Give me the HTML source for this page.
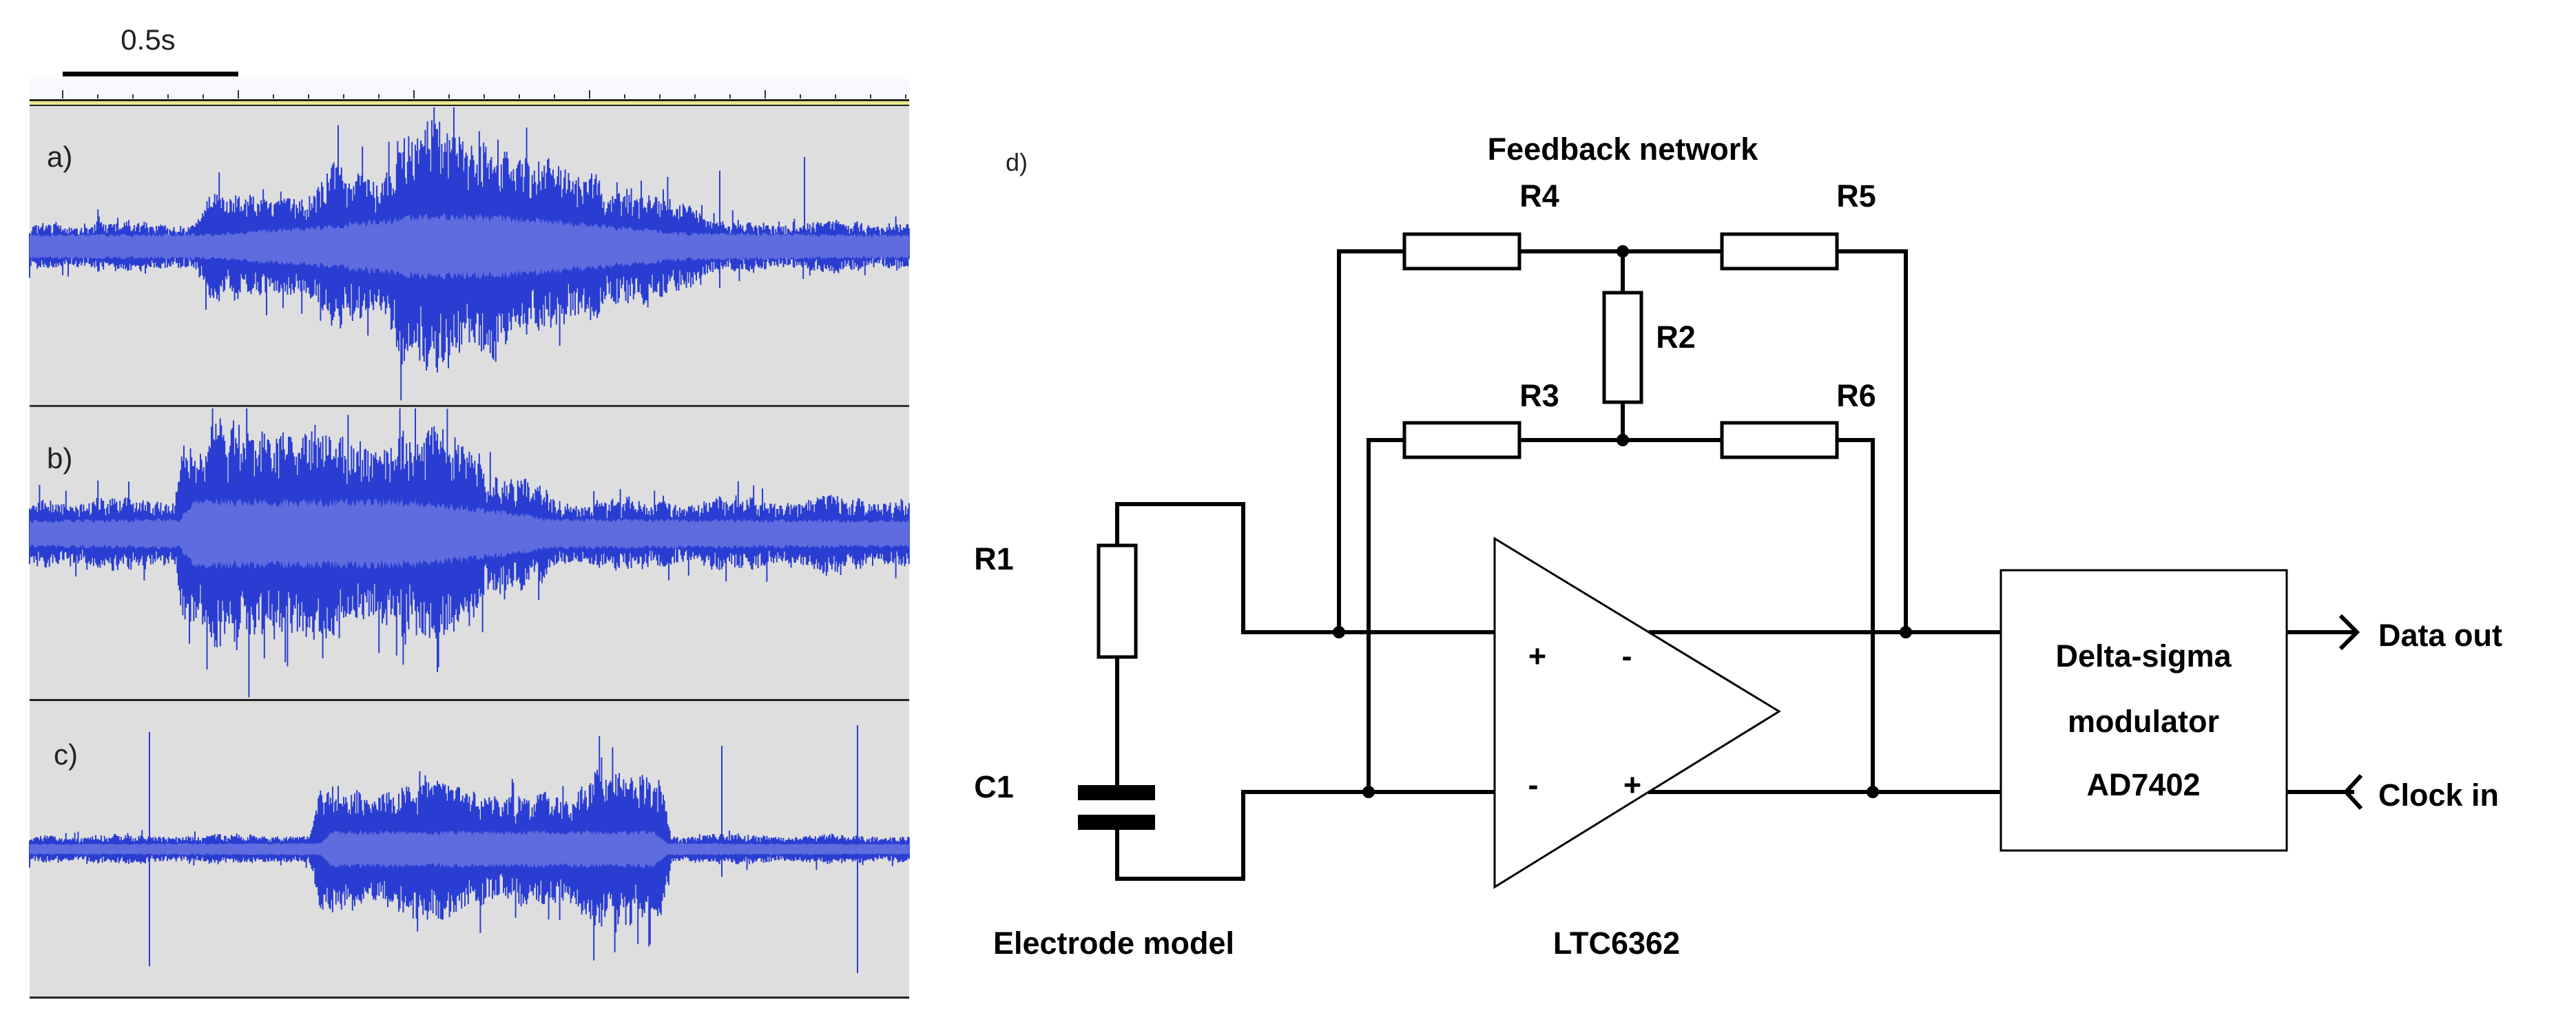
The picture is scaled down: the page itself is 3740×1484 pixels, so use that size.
<!DOCTYPE html>
<html><head><meta charset="utf-8"><style>
html,body{margin:0;padding:0;background:#fff;}
svg{display:block;}
.t{font-family:"Liberation Sans",Arial,sans-serif;font-weight:bold;font-size:45px;fill:#000;}
</style></head><body>
<svg id="s" width="3740" height="1484" viewBox="0 0 3740 1484" xmlns="http://www.w3.org/2000/svg">
<rect width="3740" height="1484" fill="#fff"/>
<text x="215" y="72" font-family="Liberation Sans, sans-serif" font-size="42" text-anchor="middle" fill="#222">0.5s</text>
<rect x="91" y="104" width="255" height="7" fill="#000"/>
<rect x="43" y="115" width="1277" height="30" fill="#f6f8fc"/>
<g id="ticks" stroke="#333" stroke-width="2"></g>
<rect x="43" y="144" width="1277" height="3" fill="#222"/>
<rect x="43" y="147" width="1277" height="5" fill="#ece88a"/>
<rect x="43" y="152" width="1277" height="2" fill="#222"/>
<rect x="43" y="154" width="1277" height="1294" fill="#dedede"/>
<g id="wave"></g>
<rect x="43" y="588" width="1277" height="3" fill="#333"/>
<rect x="43" y="1015" width="1277" height="3" fill="#222"/>
<rect x="43" y="1447" width="1277" height="3" fill="#222"/>
<text x="68" y="242" font-family="Liberation Sans, sans-serif" font-size="42" fill="#222">a)</text>
<text x="68" y="680" font-family="Liberation Sans, sans-serif" font-size="42" fill="#222">b)</text>
<text x="78" y="1110" font-family="Liberation Sans, sans-serif" font-size="42" fill="#222">c)</text>

<text x="1460" y="248" font-family="Liberation Sans, sans-serif" font-size="36" fill="#222">d)</text>
<text class="t" x="2356" y="232" text-anchor="middle">Feedback network</text>
<g stroke="#000" stroke-width="6" fill="none">
<polyline points="2039,365 1944,365 1944,918"/>
<line x1="2206" y1="365" x2="2500" y2="365"/>
<polyline points="2667,365 2767,365 2767,918"/>
<line x1="2356" y1="365" x2="2356" y2="425"/>
<line x1="2356" y1="584" x2="2356" y2="639"/>
<polyline points="2039,639 1987,639 1987,1150"/>
<line x1="2206" y1="639" x2="2500" y2="639"/>
<polyline points="2667,639 2719,639 2719,1150"/>
<polyline points="1622,792 1622,732 1805,732 1805,918 2170,918"/>
<line x1="1622" y1="954" x2="1622" y2="1140"/>
<polyline points="1622,1204 1622,1276 1805,1276 1805,1150 2170,1150"/>
<line x1="2394" y1="918" x2="2905" y2="918"/>
<line x1="2393" y1="1150" x2="2905" y2="1150"/>
<line x1="3320" y1="918" x2="3418" y2="918"/>
<polyline points="3398,894 3422,918 3398,942"/>
<line x1="3320" y1="1150" x2="3418" y2="1150"/>
<polyline points="3428,1126 3406,1150 3428,1174"/>
</g>
<g stroke="#000" stroke-width="5" fill="#fff">
<rect x="2039" y="340" width="167" height="50"/>
<rect x="2500" y="340" width="167" height="50"/>
<rect x="2329" y="425" width="54" height="159"/>
<rect x="2039" y="614" width="167" height="50"/>
<rect x="2500" y="614" width="167" height="50"/>
<rect x="1595" y="792" width="54" height="162"/>
</g>
<rect x="1565" y="1140" width="112" height="22" fill="#000"/>
<rect x="1565" y="1183" width="112" height="22" fill="#000"/>
<polygon points="2170,782 2583,1033 2170,1288" fill="#fff" stroke="#000" stroke-width="3"/>
<rect x="2905" y="828" width="415" height="407" fill="#fff" stroke="#000" stroke-width="3"/>
<g fill="#000">
<circle cx="1944" cy="918" r="9"/><circle cx="1987" cy="1150" r="9"/>
<circle cx="2719" cy="1150" r="9"/><circle cx="2767" cy="918" r="9"/>
<circle cx="2356" cy="365" r="9"/><circle cx="2356" cy="639" r="9"/>
</g>
<text class="t" x="2235" y="300" text-anchor="middle">R4</text>
<text class="t" x="2695" y="300" text-anchor="middle">R5</text>
<text class="t" x="2433" y="505" text-anchor="middle">R2</text>
<text class="t" x="2235" y="590" text-anchor="middle">R3</text>
<text class="t" x="2695" y="590" text-anchor="middle">R6</text>
<text class="t" x="1443" y="827" text-anchor="middle">R1</text>
<text class="t" x="1443" y="1158" text-anchor="middle">C1</text>
<text class="t" x="1617" y="1385" text-anchor="middle">Electrode model</text>
<text class="t" x="2347" y="1385" text-anchor="middle">LTC6362</text>
<text class="t" x="2232" y="968" text-anchor="middle">+</text>
<text class="t" x="2362" y="968" text-anchor="middle">-</text>
<text class="t" x="2226" y="1155" text-anchor="middle">-</text>
<text class="t" x="2370" y="1155" text-anchor="middle">+</text>
<text class="t" x="3112" y="968" text-anchor="middle">Delta-sigma</text>
<text class="t" x="3112" y="1063" text-anchor="middle">modulator</text>
<text class="t" x="3112" y="1155" text-anchor="middle">AD7402</text>
<text class="t" x="3453" y="938">Data out</text>
<text class="t" x="3453" y="1170">Clock in</text>
</svg>
<script>
(function(){
var NS="http://www.w3.org/2000/svg";
var s=12345;function rnd(){s=(s*16807)%2147483647;return (s-1)/2147483646;}
var tk=document.getElementById('ticks');
for(var i=0;i<26;i++){var x=91+i*(255/5);if(x>1315)break;var l=document.createElementNS(NS,'line');
l.setAttribute('x1',x);l.setAttribute('x2',x);l.setAttribute('y1',i%5==0?131:137);l.setAttribute('y2',143);tk.appendChild(l);}
function pw(x,pts){
 if(x<=pts[0][0])return pts[0][1];
 for(var i=1;i<pts.length;i++){if(x<=pts[i][0]){var a=pts[i-1],b=pts[i];return a[1]+(b[1]-a[1])*(x-a[0])/(b[0]-a[0]);}}
 return pts[pts.length-1][1];}
function nz(x){return 0.75+0.25*Math.abs(Math.sin(x/11+Math.sin(x/29)*2)*Math.sin(x/47+1));}
var panels=[
 {c:358,top:156,bot:586,
  env:[[43,38],[280,40],[300,80],[460,90],[480,130],[560,125],[580,190],[720,195],[740,140],[860,135],[880,90],[1000,85],[1030,40],[1320,40]],
  cen:[[43,16],[300,17],[480,28],[600,42],[720,42],[860,30],[1000,18],[1320,16]], sp:[[1168,130,-20],[1045,110,-60]]},
 {c:775,top:593,bot:1013,
  env:[[43,55],[255,58],[265,165],[450,190],[470,160],[690,160],[710,100],[790,75],[800,55],[1320,58]],
  cen:[[43,18],[262,20],[280,45],[600,45],[720,32],[800,20],[1320,18]], sp:[]},
 {c:1233,top:1020,bot:1445,
  env:[[43,22],[450,24],[465,95],[700,110],[720,85],[830,90],[845,130],[900,130],[920,115],[960,115],[975,24],[1320,22]],
  cen:[[43,7],[465,8],[480,24],[950,24],[970,8],[1320,7]], sp:[[217,170,-170],[1245,180,-180],[1048,150,-40]]}
];
var wv=document.getElementById('wave');
panels.forEach(function(p){
 var d='',up=[],dn=[];
 for(var x=43;x<=1320;x+=1.6){
  var e=pw(x,p.env)*nz(x);
  var a=e*(0.5+0.5*Math.pow(rnd(),0.6)),b=e*(0.5+0.5*Math.pow(rnd(),0.6));
  if(rnd()<0.04){a*=1.5;} if(rnd()<0.04){b*=1.5;}
  var y1=Math.max(p.top,p.c-a),y2=Math.min(p.bot,p.c+b);
  d+='M'+x.toFixed(1)+' '+y1.toFixed(1)+'V'+y2.toFixed(1);
  var ce=pw(x,p.cen)*(0.85+0.3*rnd());up.push(x.toFixed(1)+','+(p.c-ce).toFixed(1));dn.unshift(x.toFixed(1)+','+(p.c+ce).toFixed(1));
 }
 p.sp.forEach(function(q){d+='M'+q[0]+' '+Math.max(p.top,p.c-q[1])+'V'+Math.min(p.bot,p.c+Math.abs(q[2]));});
 var pa=document.createElementNS(NS,'path');pa.setAttribute('d',d);pa.setAttribute('stroke','#2a3dd2');pa.setAttribute('stroke-width','2');pa.setAttribute('fill','none');wv.appendChild(pa);
 var pg=document.createElementNS(NS,'polygon');pg.setAttribute('points',up.concat(dn).join(' '));pg.setAttribute('fill','#5f6cdf');wv.appendChild(pg);
});
})();
</script>
</body></html>
